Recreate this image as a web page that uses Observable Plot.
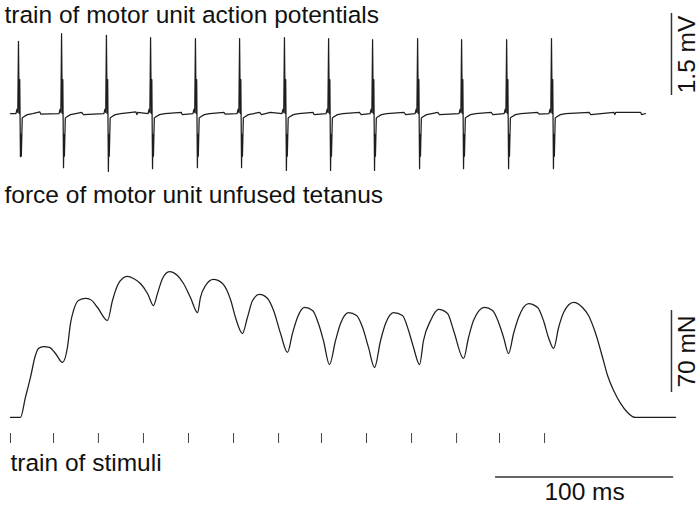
<!DOCTYPE html>
<html>
<head>
<meta charset="utf-8">
<script src="https://cdn.jsdelivr.net/npm/d3@7"></script>
<script src="https://cdn.jsdelivr.net/npm/@observablehq/plot@0.6"></script>
<style>
  body { margin: 0; background: #fff; }
  #chart { width: 700px; height: 505px; overflow: hidden; }
  #chart svg { display: block; overflow: visible; }
</style>
</head>
<body>
<div id="chart"></div>
<script>
// ---------- data (time in ms, EMG in mV, force in mN) ----------
const panelTitles = [
  "train of motor unit action potentials",
  "force of motor unit unfused tetanus",
  "train of stimuli"
];

// stimuli (ms)
const stimuliTimes = [0, 24.2, 49.4, 74.7, 100, 125.3, 150.6, 174.7, 200, 225.3, 250.6, 274.7, 300];

// motor unit action potentials
const spikeTimes   = [4.5, 28.7, 53.9, 78.7, 103.9, 128.7, 153.9, 178.7, 203.4, 228.7, 253.4, 278.7, 303.9];
const spikeTops    = [1.32, 1.46, 1.43, 1.39, 1.37, 1.37, 1.39, 1.37, 1.35, 1.37, 1.35, 1.35, 1.37];
const spikeTroughs = [-0.79, -0.99, -1.06, -1.01, -0.99, -0.99, -1.04, -1.04, -1.04, -1.01, -1.01, -1.01, -1.01];
// shape of one potential around its peak (ms offset, mV); index 3 = peak, index 6 = trough
const waveOffsets = [-1.4, -0.8, -0.4, 0, 0.4, 0.7, 1.1, 1.35, 1.6, 2.1, 3, 5, 8];
const waveValues  = [0, 0.08, 0.02, null, 0.0, 0.62, null, -0.38, -0.78, -0.08, -0.06, -0.02, 0];
// small baseline ripples
const noiseTimes  = [16.5, 17, 40, 41, 70.5, 71, 71.5, 96, 96.5, 120, 120.5, 140, 141, 146, 170, 170.5, 196, 197, 221, 222, 240, 241, 270, 271, 296, 297, 325, 326, 339, 339.5, 340, 354, 354.5];
const noiseValues = [0.03, -0.01, 0.02, -0.02, 0.03, -0.02, 0.02, 0.02, -0.02, 0.02, -0.01, 0.02, -0.02, 0.02, 0.02, -0.02, 0.02, -0.02, 0.02, -0.02, 0.02, -0.02, 0.02, -0.02, 0.02, -0.01, 0.02, -0.02, 0.02, -0.02, 0.02, 0.02, -0.02];
const emgStartEnd = [0, 356.7];

// force of unfused tetanus
const forceTimes = [0, 5.6, 8.4, 11.2, 14.0, 15.7, 18.5, 21.9, 25.3, 29.2, 32.0, 33.7, 35.4, 38.2, 42.1, 44.9, 48.9, 54.5,
  57.3, 60.1, 62.9, 65.7, 69.1, 73.0, 77.0, 80.3, 82.6, 85.4, 89.3, 93.8, 97.2, 101.1, 105.1,
  106.7, 109.6, 114.0, 119.1, 123.6, 126.4, 130.3, 133.1, 136.0, 139.9, 144.4, 147.8, 151.7, 155.6,
  158.4, 161.2, 165.2, 169.7, 173.0, 175.8, 179.2, 182.6, 185.4, 189.9, 194.4, 197.8, 201.1, 204.5,
  207.9, 210.7, 215.2, 220.2, 223.6, 226.4, 229.8, 232.0, 236.0, 240.4, 245.5, 248.9, 254.5,
  257.3, 260.1, 266.3, 270.8, 274.2, 277.0, 279.8, 282.6, 285.4, 291.0, 296.1, 299.4, 302.2, 305.1,
  307.9, 310.7, 316.3, 321.3, 324.7, 328.7, 332.6, 335.4, 338.8, 342.7, 346.6, 351.1, 373.6];
const forceValues = [0, 0, 17.1, 34.1, 52.9, 58.9, 60.6, 59.8, 54.6, 47.0, 59.8, 80.2, 91.3, 99.9, 101.6, 100.7, 93.9, 82.8,
  99.9, 112.7, 118.7, 120.4, 118.7, 114.4, 105.9, 95.6, 105.9, 118.7, 124.6, 121.2, 114.4, 102.4, 89.6,
  102.4, 112.7, 117.8, 114.4, 100.7, 85.4, 71.7, 85.4, 99.9, 105.0, 101.6, 91.3, 71.7, 55.5,
  71.7, 85.4, 93.9, 91.3, 80.2, 65.7, 45.2, 65.7, 80.2, 89.6, 87.1, 76.8, 59.8, 42.7,
  65.7, 80.2, 89.6, 87.1, 74.3, 59.8, 45.2, 65.7, 82.8, 92.2, 88.8, 74.3, 50.4,
  68.3, 82.8, 93.9, 91.3, 81.1, 68.3, 54.6, 71.7, 85.4, 97.3, 93.9, 82.8, 68.3, 58.9,
  76.8, 89.6, 98.2, 93.9, 87.1, 71.7, 51.2, 35.9, 23.0, 12.0, 4.3, 0, 0];

// scale bars
const emgBar   = {t: 371.3, from: 0.33, length: 1.5, label: "1.5 mV"};
const forceBar = {t: 371.3, from: 21.3, length: 70, label: "70 mN"};
const timeBar  = {start: 272.5, length: 100, label: "100 ms"};

// ---------- build tables ----------
const emgPoints = [];
emgStartEnd.forEach(t => emgPoints.push({t, v: 0}));
spikeTimes.forEach((t0, i) => {
  waveOffsets.forEach((o, k) => {
    const v = k === 3 ? spikeTops[i] : k === 6 ? spikeTroughs[i] : waveValues[k];
    emgPoints.push({t: t0 + o, v});
  });
});
noiseTimes.forEach((t, i) => emgPoints.push({t, v: noiseValues[i]}));
emgPoints.sort((a, b) => a.t - b.t);

const forcePoints = forceTimes.map((t, i) => ({t, f: forceValues[i]}));

// ---------- plots ----------
const FONT = "'Liberation Sans', Arial, Helvetica, sans-serif";
const xDomain = [-5.6, 387.6];
const common = {
  width: 700, marginTop: 0, marginRight: 0, marginBottom: 0, marginLeft: 0,
  x: {domain: xDomain, axis: null},
  style: {fontFamily: FONT, background: "#fff", color: "#111", overflow: "visible"}
};
const txt = {fontSize: 24.5, fill: "#111"};
const traceStyle = {stroke: "#1e1e1e", strokeWidth: 1.25};
const barStyle = {stroke: "#333", strokeWidth: 1.5};

const emgPlot = Plot.plot({
  ...common, height: 180,
  y: {domain: [-1.225, 2.067], axis: null},
  marks: [
    Plot.line(emgPoints, {x: "t", y: "v", ...traceStyle}),
    Plot.text([panelTitles[0]], {...txt, text: d => d, frameAnchor: "top-left", textAnchor: "start", lineAnchor: "top", dx: 4, dy: 4.8}),
    Plot.ruleX([emgBar], {x: "t", y1: "from", y2: d => d.from + d.length, ...barStyle}),
    Plot.text([emgBar], {...txt, x: "t", y: d => d.from + d.length / 2, text: "label", rotate: -90, dx: 16})
  ]
});

const forcePlot = Plot.plot({
  ...common, height: 245,
  y: {domain: [-6.83, 202.3], axis: null},
  marks: [
    Plot.line(forcePoints, {x: "t", y: "f", curve: "monotone-x", ...traceStyle}),
    Plot.text([panelTitles[1]], {...txt, text: d => d, frameAnchor: "top-left", textAnchor: "start", lineAnchor: "top", dx: 4, dy: 5.1}),
    Plot.ruleX([forceBar], {x: "t", y1: "from", y2: d => d.from + d.length, ...barStyle}),
    Plot.text([forceBar], {...txt, x: "t", y: d => d.from + d.length / 2, text: "label", rotate: -90, dx: 16})
  ]
});

const stimPlot = Plot.plot({
  ...common, height: 80,
  marks: [
    Plot.tickX(stimuliTimes, {x: d => d, insetTop: 8, insetBottom: 62, stroke: "#444", strokeWidth: 1}),
    Plot.text([panelTitles[2]], {...txt, text: d => d, frameAnchor: "top-left", textAnchor: "start", lineAnchor: "top", dx: 10, dy: 27.6}),
    Plot.rect([timeBar], {x1: "start", x2: d => d.start + d.length, insetTop: 51.25, insetBottom: 27.25, fill: "#333"}),
    Plot.text([timeBar], {...txt, x: d => d.start + d.length / 2, text: "label", frameAnchor: "top", lineAnchor: "top", dy: 57})
  ]
});

const chart = document.getElementById("chart");
chart.append(emgPlot, forcePlot, stimPlot);
</script>
</body>
</html>
